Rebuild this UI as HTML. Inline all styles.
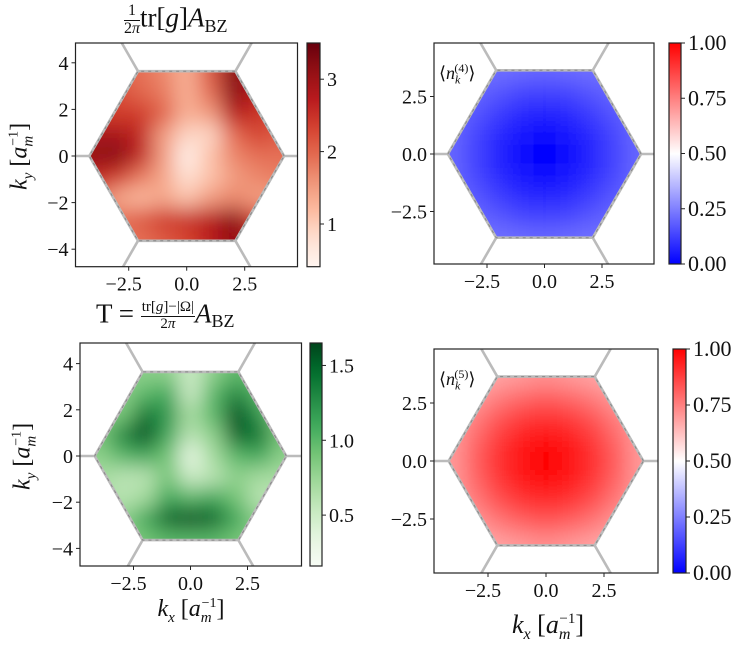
<!DOCTYPE html>
<html><head><meta charset="utf-8">
<style>
html,body{margin:0;padding:0;background:#fff;}
#wrap{position:relative;width:747px;height:650px;overflow:hidden;font-family:"Liberation Serif",serif;color:#111;}
.lbl{position:absolute;font-family:"Liberation Serif",serif;white-space:nowrap;line-height:1;}
.frac{display:inline-block;vertical-align:middle;text-align:center;line-height:1.05;}
.frac span{display:block;}
.frac .num{border-bottom:1px solid #111;padding:0 1px;}
i{font-style:italic;}
</style></head>
<body>
<div id="wrap">
<svg id="svg" width="747" height="650" viewBox="0 0 747 650" xmlns="http://www.w3.org/2000/svg" style="position:absolute;left:0;top:0">
<defs id="defs">
<filter id="blur" filterUnits="userSpaceOnUse" x="0" y="0" width="747" height="650"><feGaussianBlur stdDeviation="10"/></filter>
</defs>
</svg>

<div class="lbl" style="left:124px;top:3px;font-size:27px;">
<span class="frac" style="font-size:16px"><span class="num">1</span><span>2<i>π</i></span></span>tr[<i>g</i>]<i>A</i><span style="font-size:18px;position:relative;top:5px">BZ</span></div>
<div class="lbl" style="left:96px;top:300px;font-size:27px;">
T = <span class="frac" style="font-size:15px"><span class="num">tr[<i>g</i>]−|Ω|</span><span>2<i>π</i></span></span><i>A</i><span style="font-size:18px;position:relative;top:5px">BZ</span></div>

<div class="lbl" style="left:-38px;top:142px;font-size:24px;transform:rotate(-90deg);width:120px;text-align:center;"><i>k<sub style="font-size:15px">y</sub></i> [<i>a</i><sub style="font-size:15px"><i>m</i></sub><sup style="font-size:14px;margin-left:-10px">−1</sup>]</div>
<div class="lbl" style="left:-35px;top:442px;font-size:24px;transform:rotate(-90deg);width:120px;text-align:center;"><i>k<sub style="font-size:15px">y</sub></i> [<i>a</i><sub style="font-size:15px"><i>m</i></sub><sup style="font-size:14px;margin-left:-10px">−1</sup>]</div>
<div class="lbl" style="left:131px;top:597px;font-size:24px;width:120px;text-align:center;"><i>k<sub style="font-size:15px">x</sub></i> [<i>a</i><sub style="font-size:15px"><i>m</i></sub><sup style="font-size:14px;margin-left:-10px">−1</sup>]</div>
<div class="lbl" style="left:488px;top:612px;font-size:26px;width:120px;text-align:center;"><i>k<sub style="font-size:16px">x</sub></i> [<i>a</i><sub style="font-size:16px"><i>m</i></sub><sup style="font-size:15px;margin-left:-11px">−1</sup>]</div>

<div class="lbl" style="left:439px;top:62px;font-size:18px;">⟨<i>n</i><sub style="font-size:12px"><i>k</i></sub><sup style="font-size:12px;margin-left:-6px">(4)</sup>⟩</div>
<div class="lbl" style="left:439px;top:368px;font-size:18px;">⟨<i>n</i><sub style="font-size:12px"><i>k</i></sub><sup style="font-size:12px;margin-left:-6px">(5)</sup>⟩</div>
</div>

<script>
const xVals = [-4,-3,-2,-1,0,1,2,3,4];
const yVals = [3.6,2.7,1.8,0.9,0,-0.9,-1.8,-2.7,-3.6];
const trG = [
 [2.0,2.0,1.9,1.7,1.3,2.1,3.2,3.0,2.4],
 [2.2,2.2,2.0,1.8,1.3,1.9,3.2,2.7,2.3],
 [2.4,2.4,2.4,2.0,1.3,1.5,2.7,2.5,2.2],
 [2.9,2.9,2.6,1.5,0.9,0.9,1.9,2.3,2.1],
 [3.1,3.2,2.6,1.5,0.5,1.1,1.7,1.9,1.9],
 [2.6,2.4,1.8,1.4,0.8,1.1,1.5,1.7,1.8],
 [2.0,1.4,1.2,1.4,1.1,1.5,1.7,1.5,1.5],
 [1.9,1.9,2.1,2.4,2.5,2.7,3.2,2.3,1.7],
 [1.9,1.9,1.9,2.1,2.3,2.7,3.1,2.9,1.9]];
const tGrid = [
 [0.8,0.8,0.8,0.8,0.5,0.8,1.0,0.9,0.8],
 [0.8,0.8,1.0,1.1,0.5,1.0,1.3,1.0,0.8],
 [0.8,0.9,1.4,1.2,0.7,1.0,1.6,1.2,0.8],
 [0.9,1.3,1.6,1.1,0.6,0.8,1.5,1.4,0.9],
 [0.8,1.0,1.1,0.9,0.3,0.7,1.0,1.1,0.8],
 [0.7,0.6,0.6,0.9,0.5,0.6,0.8,0.7,0.7],
 [0.7,0.6,0.7,1.1,1.0,1.1,0.9,0.6,0.6],
 [0.8,0.8,1.1,1.5,1.6,1.5,1.1,0.8,0.7],
 [0.8,0.8,0.9,1.0,1.0,1.0,0.9,0.8,0.8]];
const n4Grid = [
 [.22,.22,.22,.21,.20,.21,.22,.22,.22],
 [.22,.20,.17,.14,.13,.14,.17,.20,.22],
 [.21,.17,.12,.08,.07,.08,.12,.17,.21],
 [.20,.14,.08,.04,.02,.04,.08,.14,.20],
 [.20,.13,.07,.02,.00,.02,.07,.13,.20],
 [.20,.14,.08,.04,.02,.04,.08,.14,.20],
 [.21,.17,.12,.08,.07,.08,.12,.17,.21],
 [.22,.20,.17,.14,.13,.14,.17,.20,.22],
 [.22,.22,.22,.21,.20,.21,.22,.22,.22]];
const n5Grid = [
 [.64,.66,.68,.70,.72,.70,.68,.66,.64],
 [.66,.70,.76,.80,.82,.80,.76,.70,.66],
 [.68,.76,.84,.89,.91,.89,.84,.76,.68],
 [.70,.80,.89,.95,.98,.95,.89,.80,.70],
 [.70,.82,.91,.98,1.0,.98,.91,.82,.70],
 [.70,.80,.89,.95,.98,.95,.89,.80,.70],
 [.68,.76,.84,.89,.91,.89,.84,.76,.68],
 [.66,.70,.76,.80,.82,.80,.76,.70,.66],
 [.64,.66,.68,.70,.72,.70,.68,.66,.64]];
const xTicks = [-2.5,0,2.5];
const xTickLabels = ["−2.5","0.0","2.5"];
const yTicksL = [-4,-2,0,2,4];
const yTickLabelsL = ["−4","−2","0","2","4"];
const yTicksR = [-2.5,0,2.5];
const yTickLabelsR = ["−2.5","0.0","2.5"];
const cbTicksTL = [1,2,3];
const cbTicksBL = [0.5,1.0,1.5];
const cbTickLabelsBL = ["0.5","1.0","1.5"];
const cbTicksR = [0,0.25,0.5,0.75,1];
const cbTickLabelsR = ["0.00","0.25","0.50","0.75","1.00"];

const Reds=["#fff5f0","#fee0d2","#fcbba1","#f0977a","#e36a50","#d4412f","#b81a1e","#931014","#67000d"];
const Greens=["#f7fcf5","#e5f5e0","#c7e9c0","#a1d99b","#74c476","#41ab5d","#238b45","#006d2c","#00441b"];
const BWR=["#0000ff","#ffffff","#ff0000"];
function hx(c){return [parseInt(c.slice(1,3),16),parseInt(c.slice(3,5),16),parseInt(c.slice(5,7),16)];}
function cmap(stops,t){t=Math.max(0,Math.min(1,t));const n=stops.length-1;const k=Math.min(n-1,Math.floor(t*n));const f=t*n-k;
 const a=hx(stops[k]),b=hx(stops[k+1]);return "rgb("+a.map((v,i)=>Math.round(v+(b[i]-v)*f)).join(",")+")";}

const NS="http://www.w3.org/2000/svg";
const svg=document.getElementById('svg'), defs=document.getElementById('defs');
function el(tag,attrs,parent){const e=document.createElementNS(NS,tag);for(const k in attrs)e.setAttribute(k,attrs[k]);(parent||svg).appendChild(e);return e;}

const panels=[
 {id:'tl',x0:75.5,x1:297.5,y0:43,y1:266.7,cx:186.7,cy:156,sx:23.2,sy:23.3,grid:trG,vmin:0.41,vmax:3.5,cm:Reds,cb:[307,320],yT:yTicksL,yL:yTickLabelsL,cbT:cbTicksTL,cbL:["1","2","3"]},
 {id:'tr',x0:434,x1:654,y0:43,y1:264,cx:544.5,cy:154,sx:23,sy:23,grid:n4Grid,vmin:0,vmax:1,cm:BWR,cb:[669,681],yT:yTicksR,yL:yTickLabelsR,cbT:cbTicksR,cbL:cbTickLabelsR},
 {id:'bl',x0:80,x1:301.5,y0:343,y1:566,cx:190.5,cy:456,sx:22.8,sy:23.1,grid:tGrid,vmin:0.16,vmax:1.65,cm:Greens,cb:[310,322],yT:yTicksL,yL:yTickLabelsL,cbT:cbTicksBL,cbL:cbTickLabelsBL},
 {id:'br',x0:434,x1:658,y0:349,y1:573,cx:546,cy:461,sx:23.2,sy:23.2,grid:n5Grid,vmin:0,vmax:1,cm:BWR,cb:[673,686],yT:yTicksR,yL:yTickLabelsR,cbT:cbTicksR,cbL:cbTickLabelsR}
];
const R=4.2, HC=2.1, HT=3.64;
panels.forEach(p=>{
 const X=v=>p.cx+v*p.sx, Y=v=>p.cy-v*p.sy;
 const g=el('g',{});
 
 
 const hexPts=[[R,0],[HC,HT],[-HC,HT],[-R,0],[-HC,-HT],[HC,-HT]];
 const ptsStr=hexPts.map(q=>X(q[0]).toFixed(1)+","+Y(q[1]).toFixed(1)).join(" ");
 const cp=el('clipPath',{id:'hex-'+p.id},defs);
 el('polygon',{points:ptsStr},cp);
 const ac=el('clipPath',{id:'ax-'+p.id},defs);
 el('rect',{x:p.x0,y:p.y0,width:p.x1-p.x0,height:p.y1-p.y0},ac);
 const hg=el('g',{'clip-path':'url(#hex-'+p.id+')'},g);
 const bg=el('g',{filter:'url(#blur)'},hg);
 const nR=yVals.length,nC=xVals.length;
 for(let i=0;i<nR;i++)for(let j=0;j<nC;j++){
  let xa=xVals[j]-0.5,xb=xVals[j]+0.5,ya=yVals[i]+0.45,yb=yVals[i]-0.45;
  if(j===0)xa-=1.5; if(j===nC-1)xb+=1.5; if(i===0)ya+=1.5; if(i===nR-1)yb-=1.5;
  const r=el('rect',{x:X(xa),y:Y(ya),width:X(xb)-X(xa)+0.5,height:Y(yb)-Y(ya)+0.5,fill:cmap(p.cm,(p.grid[i][j]-p.vmin)/(p.vmax-p.vmin))},bg);
  
  
 }
 const lg=el('g',{'clip-path':'url(#ax-'+p.id+')',stroke:'#bbbbbb','stroke-width':2.6,fill:'none'},g);
 const hexLine=el('polygon',{points:ptsStr},lg);
 
 
 hexPts.forEach(q=>{const ang=Math.atan2(q[1],q[0]);const L=2;
  const ln=el('line',{x1:X(q[0]),y1:Y(q[1]),x2:X(q[0]+L*Math.cos(ang)),y2:Y(q[1]+L*Math.sin(ang))},lg);
  
  
 });
 el('polygon',{points:ptsStr,stroke:'#888','stroke-width':1,'stroke-dasharray':'3 4',fill:'none'},lg);
 const fr=el('rect',{x:p.x0,y:p.y0,width:p.x1-p.x0,height:p.y1-p.y0,fill:'none',stroke:'#222','stroke-width':1.2},g);
 
 
 xTicks.forEach((t,k)=>{
  el('line',{x1:X(t),x2:X(t),y1:p.y1,y2:p.y1+4,stroke:'#222','stroke-width':1},g);
  const tx=el('text',{x:X(t)-(xTickLabels[k][0]==='−'?5:0),y:p.y1+24,'text-anchor':'middle','font-size':20,'font-family':'Liberation Serif, serif',fill:'#111'},g);
  tx.textContent=xTickLabels[k];
  
  
 });
 p.yT.forEach((t,k)=>{
  el('line',{x1:p.x0-4,x2:p.x0,y1:Y(t),y2:Y(t),stroke:'#222','stroke-width':1},g);
  const tx=el('text',{x:p.x0-7,y:Y(t)+7,'text-anchor':'end','font-size':20,'font-family':'Liberation Serif, serif',fill:'#111'},g);
  tx.textContent=p.yL[k];
  
  
 });
 const gr=el('linearGradient',{id:'cbg-'+p.id,x1:0,y1:1,x2:0,y2:0},defs);
 for(let s=0;s<=20;s++){el('stop',{offset:s/20,'stop-color':cmap(p.cm,s/20)},gr);}
 const cbr=el('rect',{x:p.cb[0],y:p.y0,width:p.cb[1]-p.cb[0],height:p.y1-p.y0,fill:'url(#cbg-'+p.id+')',stroke:'#222','stroke-width':1.2},g);
 
 
 const CY=v=>p.y1-(v-p.vmin)/(p.vmax-p.vmin)*(p.y1-p.y0);
 p.cbT.forEach((t,k)=>{
  el('line',{x1:p.cb[1],x2:p.cb[1]+4,y1:CY(t),y2:CY(t),stroke:'#222','stroke-width':1},g);
  const tx=el('text',{x:p.cb[1]+7,y:CY(t)+7,'font-size':p.id==='tl'||p.id==='bl'?20:22,'font-family':'Liberation Serif, serif',fill:'#111'},g);
  tx.textContent=p.cbL[k];
  
  
 });
});
</script>
</body></html>
